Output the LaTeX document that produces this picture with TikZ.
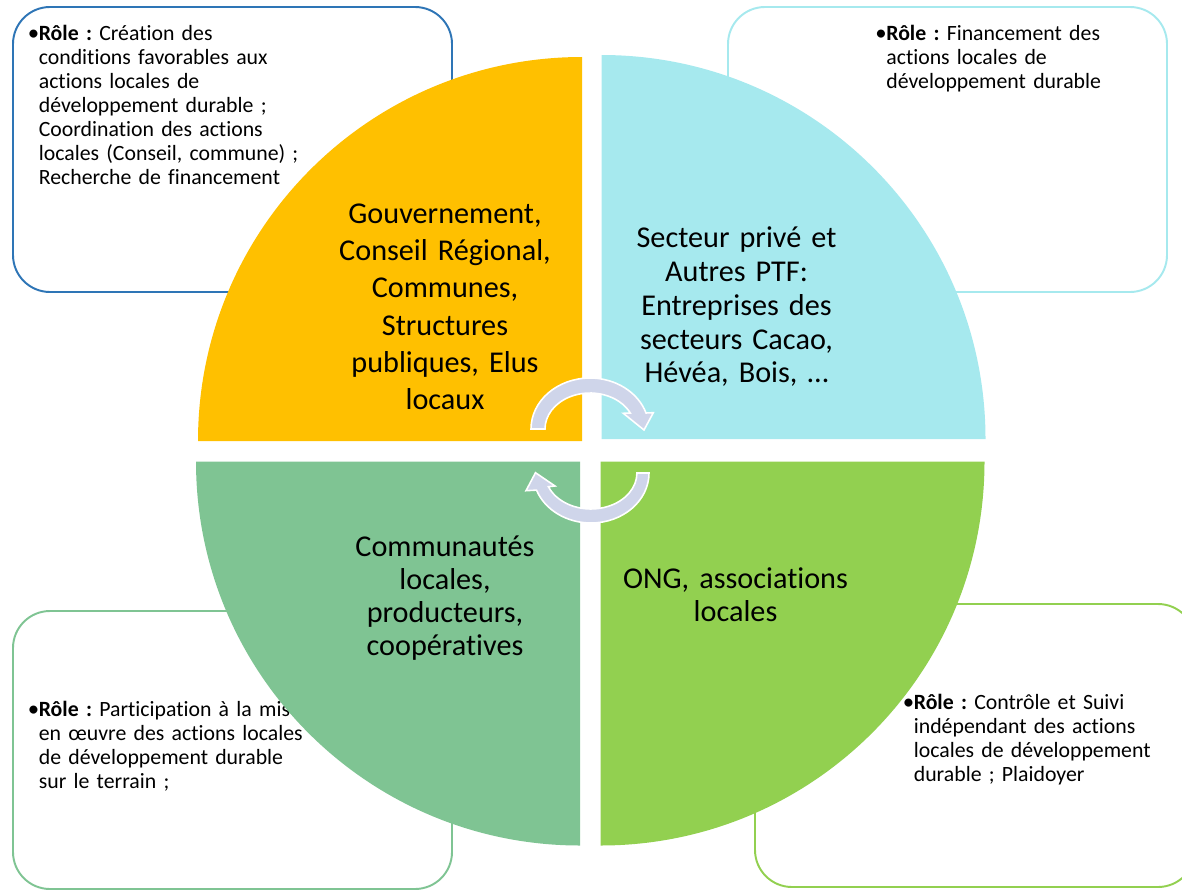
\documentclass[tikz,border=0pt]{standalone}
\usepackage{fontspec}
\setmainfont[Ligatures=NoCommon]{Carlito}
\frenchspacing
\definecolor{qyellow}{HTML}{FFC000}
\definecolor{qcyan}{HTML}{A6E9EE}
\definecolor{qgreen}{HTML}{7FC493}
\definecolor{qlime}{HTML}{92D050}
\definecolor{bblue}{HTML}{2E75B6}
\definecolor{arrowfill}{HTML}{CFD5EA}
\newcommand{\bul}{\makebox[5.4pt][l]{\hspace*{-0.8pt}\raisebox{-0.2pt}{\fontsize{13}{13}\selectfont •}}}
\newcommand{\ind}{\hspace*{5.4pt}}
\begin{document}
\begin{tikzpicture}[x=0.02cm,y=0.02cm,
  rolebox/.style={rounded corners=0.74cm, line width=1.1pt, fill=white},
  roletext/.style={anchor=base west, inner sep=0pt, text width=8cm, align=left,
    font=\fontsize{12.4}{13.7}\selectfont},
  maintext/.style={anchor=base, inner sep=0pt, text width=5.6cm, align=center},
  cyclearrow/.style={fill=arrowfill, draw=white, line width=0.9pt, line join=miter}]
\useasboundingbox (0,0) rectangle (1182,-892);
\clip (0,0) rectangle (1182,-892);

% role boxes
\draw[rolebox, draw=bblue] (13,-7) rectangle (452,-292);
\draw[rolebox, draw=qcyan] (728,-7) rectangle (1167,-292);
\draw[rolebox, draw=qgreen] (13,-611) rectangle (452,-889);
\draw[rolebox, draw=qlime] (755,-604) rectangle (1195,-887);

% role texts
\node[roletext] (r1) at (29,-40.5) {\bul\textbf{Rôle :} Création des\\
\ind conditions favorables aux\\
\ind actions locales de\\
\ind développement durable ;\\
\ind Coordination des actions\\
\ind locales (Conseil, commune) ;\\
\ind Recherche de financement};
\node[roletext] (r2) at (876.5,-40.5) {\bul\textbf{Rôle :} Financement des\\
\ind actions locales de\\
\ind développement durable};
\node[roletext] (r3) at (29,-716) {\bul\textbf{Rôle :} Participation à la mise\\
\ind en œuvre des actions locales\\
\ind de développement durable\\
\ind sur le terrain ;};
\node[roletext] (r4) at (904,-709) {\bul\textbf{Rôle :} Contrôle et Suivi\\
\ind indépendant des actions\\
\ind locales de développement\\
\ind durable ; Plaidoyer};

% quadrants
\fill[qyellow] (582,-441) -- (198,-441) arc[start angle=180, end angle=90, radius=384] -- cycle;
\fill[qcyan] (601.5,-439) -- (601.5,-55) arc[start angle=90, end angle=0, radius=384] -- cycle;
\fill[qgreen] (580,-461.5) -- (196,-461.5) arc[start angle=180, end angle=270, radius=384] -- cycle;
\fill[qlime] (600.5,-461.5) -- (984.5,-461.5) arc[start angle=0, end angle=-90, radius=384] -- cycle;

% main texts
\node[maintext, font=\fontsize{17.2}{21.2}\selectfont] (gov) at (445,-223.3)
  {Gouvernement,\\Conseil Régional,\\Communes,\\Structures\\publiques, Elus\\locaux};
\node[maintext, font=\fontsize{17.2}{19.3}\selectfont] (priv) at (736.5,-247.3)
  {Secteur privé et\\Autres PTF:\\Entreprises des\\secteurs Cacao,\\Hévéa, Bois, …};
\node[maintext, font=\fontsize{17.2}{18.7}\selectfont] (comm) at (445,-556.7)
  {Communautés\\locales,\\producteurs,\\coopératives};
\node[maintext, font=\fontsize{17.2}{18.9}\selectfont] (ong) at (735.5,-588.3)
  {ONG, associations\\locales};

% cycle arrows
\filldraw[cyclearrow] (531,-429) arc[start angle=180, end angle=18.3, x radius=59, y radius=51]
  -- (653.3,-412.7) -- (644,-430) -- (623.3,-413.3) -- (630.3,-413)
  arc[start angle=26.4, end angle=180, x radius=45, y radius=36] -- cycle;
\filldraw[cyclearrow] (649,-473) arc[start angle=0, end angle=-160, x radius=58, y radius=50]
  -- (526,-490.7) -- (535.5,-472.7) -- (555,-486) -- (548.4,-486.7)
  arc[start angle=-157.6, end angle=0, x radius=46, y radius=36] -- cycle;
\end{tikzpicture}
\end{document}
